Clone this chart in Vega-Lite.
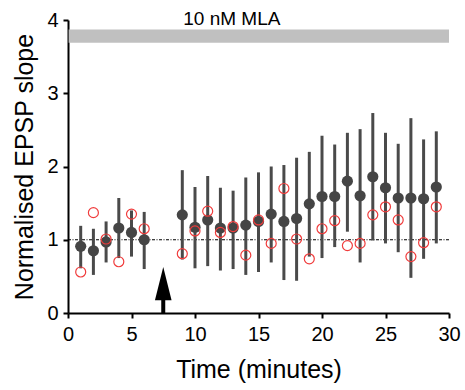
{
  "$schema": "https://vega.github.io/schema/vega-lite/v6.json",
  "width": 381,
  "height": 293,
  "autosize": "none",
  "padding": {"left": 68, "top": 20, "right": 16, "bottom": 77},
  "background": "white",
  "config": {"view": {"stroke": null}, "font": "Liberation Sans"},
  "datasets": {
    "pts": [
      {"t": 1, "m": 0.91, "lo": 0.61, "hi": 1.19, "o": 0.56},
      {"t": 2, "m": 0.85, "lo": 0.52, "hi": 1.15, "o": 1.37},
      {"t": 3, "m": 0.97, "lo": 0.69, "hi": 1.25, "o": 1.01},
      {"t": 4, "m": 1.16, "lo": 0.75, "hi": 1.57, "o": 0.70},
      {"t": 5, "m": 1.10, "lo": 0.77, "hi": 1.40, "o": 1.35},
      {"t": 6, "m": 1.00, "lo": 0.60, "hi": 1.38, "o": 1.15},
      {"t": 9, "m": 1.34, "lo": 0.73, "hi": 1.95, "o": 0.81},
      {"t": 10, "m": 1.17, "lo": 0.61, "hi": 1.72, "o": 1.12},
      {"t": 11, "m": 1.27, "lo": 0.64, "hi": 1.87, "o": 1.39},
      {"t": 12, "m": 1.16, "lo": 0.58, "hi": 1.71, "o": 1.10},
      {"t": 13, "m": 1.16, "lo": 0.60, "hi": 1.67, "o": 1.18},
      {"t": 14, "m": 1.20, "lo": 0.52, "hi": 1.85, "o": 0.79},
      {"t": 15, "m": 1.25, "lo": 0.56, "hi": 1.92, "o": 1.27},
      {"t": 16, "m": 1.35, "lo": 0.69, "hi": 2.00, "o": 0.95},
      {"t": 17, "m": 1.25, "lo": 0.45, "hi": 2.02, "o": 1.70},
      {"t": 18, "m": 1.29, "lo": 0.44, "hi": 2.12, "o": 1.01},
      {"t": 19, "m": 1.49, "lo": 0.77, "hi": 2.20, "o": 0.74},
      {"t": 20, "m": 1.59, "lo": 0.75, "hi": 2.42, "o": 1.15},
      {"t": 21, "m": 1.59, "lo": 0.90, "hi": 2.30, "o": 1.26},
      {"t": 22, "m": 1.80, "lo": 1.11, "hi": 2.46, "o": 0.92},
      {"t": 23, "m": 1.60, "lo": 0.69, "hi": 2.51, "o": 0.95},
      {"t": 24, "m": 1.86, "lo": 0.99, "hi": 2.73, "o": 1.34},
      {"t": 25, "m": 1.71, "lo": 0.95, "hi": 2.46, "o": 1.45},
      {"t": 26, "m": 1.57, "lo": 0.83, "hi": 2.31, "o": 1.27},
      {"t": 27, "m": 1.57, "lo": 0.48, "hi": 2.66, "o": 0.77},
      {"t": 28, "m": 1.56, "lo": 0.74, "hi": 2.37, "o": 0.96},
      {"t": 29, "m": 1.72, "lo": 0.95, "hi": 2.48, "o": 1.45}
    ],
    "bar": [{"x0": 0.05, "x1": 30, "y0": 3.69, "y1": 3.87, "label": "10 nM MLA", "lx": 12.9, "ly": 3.93}],
    "arrow": [{"t": 7.5, "y0": 0, "y1": 0.26, "head": 0.4}],
    "base": [{"y": 1}]
  },
  "layer": [
    {
      "data": {"name": "bar"},
      "mark": {"type": "rect", "color": "#c0c0c0"},
      "encoding": {
        "x": {"field": "x0", "type": "quantitative",
          "scale": {"domain": [0, 30], "nice": false, "zero": false},
          "axis": {
            "title": "Time (minutes)",
            "values": [0, 2.5, 5, 7.5, 10, 12.5, 15, 17.5, 20, 22.5, 25, 27.5, 30],
            "labelExpr": "datum.value % 5 == 0 ? format(datum.value, 'd') : ''",
            "grid": false, "domainColor": "black", "domainWidth": 2,
            "tickColor": "black", "tickWidth": 2, "tickSize": 5,
            "labelFontSize": 20, "labelPadding": 6, "labelColor": "black", "labelFlush": false,
            "titleFontSize": 25, "titleFontWeight": "normal", "titleColor": "black",
            "titleBaseline": "alphabetic", "titleY": 64
          }
        },
        "x2": {"field": "x1"},
        "y": {"field": "y0", "type": "quantitative",
          "scale": {"domain": [0, 4], "nice": false, "zero": false},
          "axis": {
            "title": "Normalised EPSP slope",
            "values": [0, 0.5, 1, 1.5, 2, 2.5, 3, 3.5, 4],
            "labelExpr": "datum.value % 1 == 0 ? format(datum.value, 'd') : ''",
            "grid": false, "domainColor": "black", "domainWidth": 2,
            "tickColor": "black", "tickWidth": 2, "tickSize": 5,
            "labelFontSize": 20, "labelPadding": 5, "labelColor": "black", "labelFlush": false,
            "titleFontSize": 25, "titleFontWeight": "normal", "titleColor": "black",
            "titleAngle": 270, "titleBaseline": "alphabetic", "titleAlign": "center",
            "titleX": -36, "titleY": 146.5
          }
        },
        "y2": {"field": "y1"}
      }
    },
    {
      "data": {"name": "bar"},
      "mark": {"type": "text", "fontSize": 19, "color": "black", "baseline": "alphabetic", "align": "center"},
      "encoding": {
        "x": {"field": "lx", "type": "quantitative"},
        "y": {"field": "ly", "type": "quantitative"},
        "text": {"field": "label"}
      }
    },
    {
      "data": {"name": "base"},
      "mark": {"type": "rule", "color": "black", "strokeWidth": 1.2, "strokeDash": [3, 1.5, 1, 1.5]},
      "encoding": {"y": {"field": "y", "type": "quantitative"}}
    },
    {
      "data": {"name": "pts"},
      "mark": {"type": "rule", "color": "#4a4a4a", "strokeWidth": 3},
      "encoding": {
        "x": {"field": "t", "type": "quantitative"},
        "y": {"field": "lo", "type": "quantitative"},
        "y2": {"field": "hi"}
      }
    },
    {
      "data": {"name": "pts"},
      "mark": {"type": "point", "filled": true, "color": "#454545", "opacity": 1, "size": 125},
      "encoding": {
        "x": {"field": "t", "type": "quantitative"},
        "y": {"field": "m", "type": "quantitative"}
      }
    },
    {
      "data": {"name": "pts"},
      "mark": {"type": "point", "filled": false, "color": "#f03c3c", "opacity": 1, "strokeWidth": 1.2, "size": 100},
      "encoding": {
        "x": {"field": "t", "type": "quantitative"},
        "y": {"field": "o", "type": "quantitative"}
      }
    },
    {
      "data": {"name": "arrow"},
      "mark": {"type": "rule", "color": "black", "strokeWidth": 4},
      "encoding": {
        "x": {"field": "t", "type": "quantitative"},
        "y": {"field": "y0", "type": "quantitative"},
        "y2": {"field": "y1"}
      }
    },
    {
      "data": {"name": "arrow"},
      "mark": {"type": "point", "filled": true, "color": "black", "opacity": 1, "shape": "M0,-1L0.5,1L-0.5,1Z", "size": 1100},
      "encoding": {
        "x": {"field": "t", "type": "quantitative"},
        "y": {"field": "head", "type": "quantitative"}
      }
    }
  ]
}
